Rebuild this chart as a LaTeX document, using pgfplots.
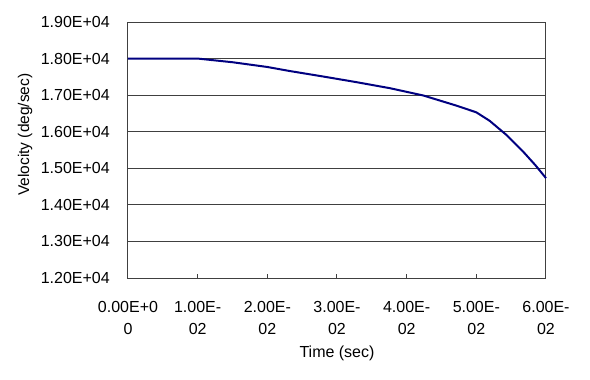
\documentclass[border=0pt]{standalone}
\usepackage{fontspec}
\setmainfont{Liberation Sans}
\usepackage{pgfplots}
\pgfplotsset{compat=1.18}
\definecolor{navyline}{RGB}{0,0,128}
\definecolor{gridc}{RGB}{64,64,64}
\newcommand{\pad}{\hspace*{18bp}}
\begin{document}
\begin{tikzpicture}
\useasboundingbox (-128bp,-102bp) rectangle (462bp,278bp);
\begin{axis}[
  at={(0,0)}, anchor=south west,
  scale only axis,
  width=418bp, height=256bp,
  xmin=0, xmax=0.06, ymin=12000, ymax=19000,
  xtick={0,0.01,0.02,0.03,0.04,0.05,0.06},
  xticklabels={{0.00E+0\\0},{1.00E-\\02},{2.00E-\\02},{3.00E-\\02},{4.00E-\\02},{5.00E-\\02},{6.00E-\\02}},
  ytick={12000,13000,14000,15000,16000,17000,18000,19000},
  yticklabels={1.20E+04\pad,1.30E+04\pad,1.40E+04\pad,1.50E+04\pad,1.60E+04\pad,1.70E+04\pad,1.80E+04\pad,1.90E+04\pad},
  scaled ticks=false,
  ymajorgrids,
  major grid style={draw=gridc, line width=1bp},
  axis line style={draw=gridc, line width=1bp},
  tick align=inside,
  xtick pos=bottom,
  ytick style={draw=none},
  xtick style={draw=gridc, line width=1bp},
  major tick length=4bp,
  tick label style={font=\fontsize{16bp}{22bp}\selectfont, inner sep=0pt},
  xticklabel style={align=center},
  yticklabel style={anchor=east},
  xticklabel shift=23bp,
  xlabel={Time (sec)},
  ylabel={Velocity (deg/sec)},
  every axis x label/.style={at={(axis description cs:0.5,-0.293)}, anchor=center, font=\fontsize{16bp}{18bp}\selectfont},
  every axis y label/.style={at={(axis description cs:-0.246,0.56)}, anchor=center, rotate=90, font=\fontsize{15.5bp}{18bp}\selectfont},
  clip=false,
]
\addplot[navyline, line width=2bp] coordinates {
(0,18000) (0.01,18000) (0.0105,17990) (0.015,17900) (0.02,17770)
(0.0232,17660) (0.028,17510) (0.0328,17355) (0.0376,17190)
(0.0424,16990) (0.0472,16710) (0.05,16530) (0.0519,16300)
(0.0543,15915) (0.0567,15460) (0.0585,15080) (0.06,14730)
};
\end{axis}
\end{tikzpicture}
\end{document}
